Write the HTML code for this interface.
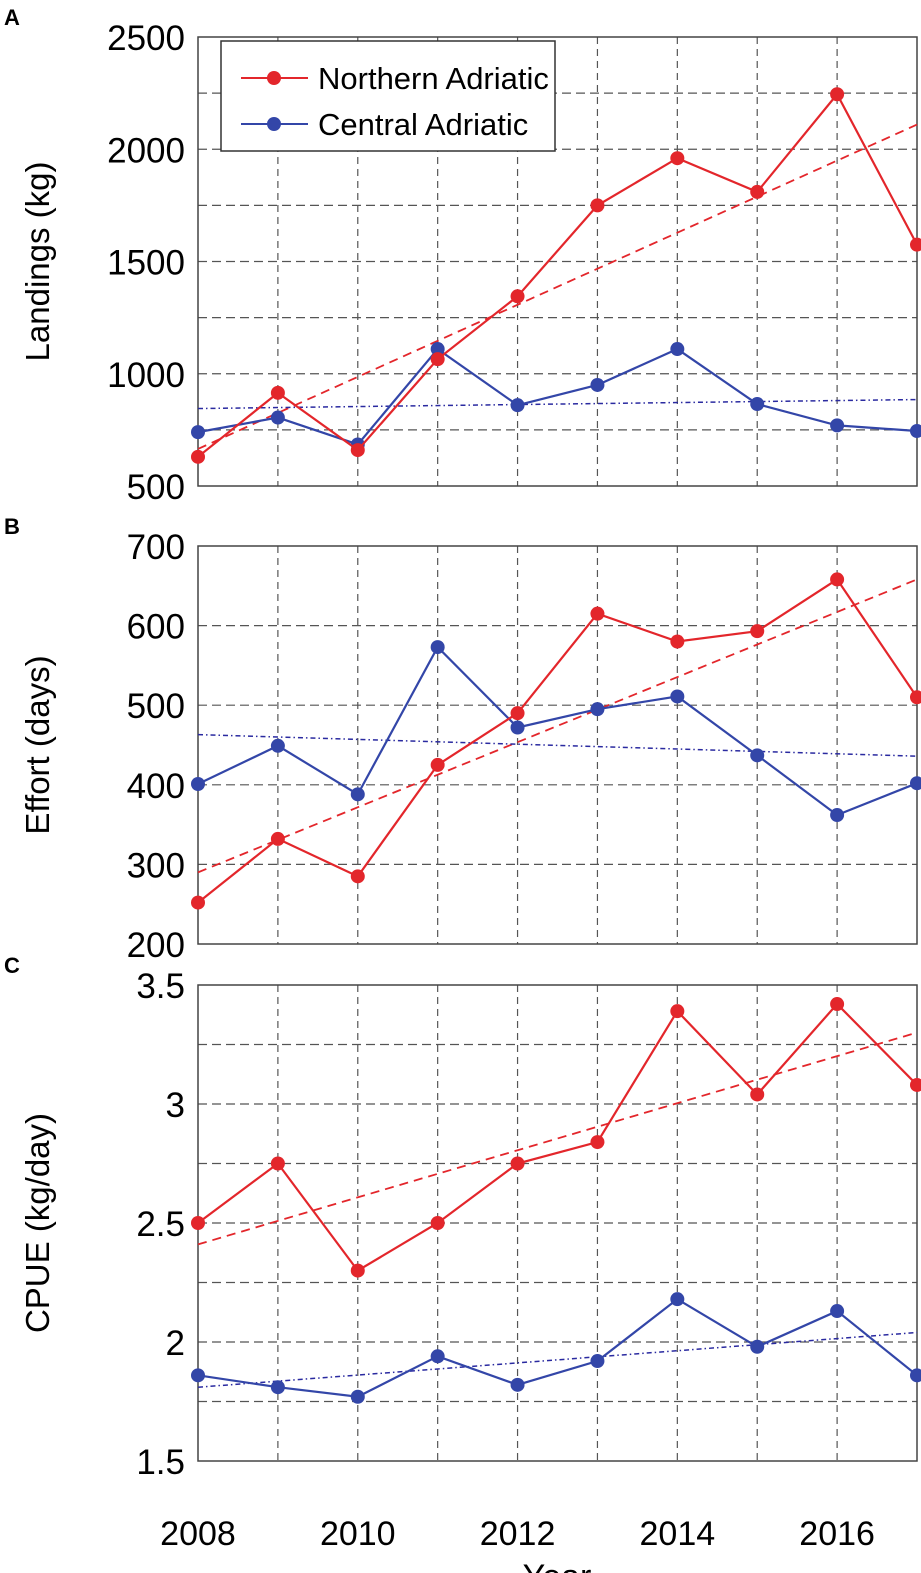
<!DOCTYPE html>
<html><head><meta charset="utf-8"><style>
html,body{margin:0;padding:0;background:#fff}
svg{display:block;font-family:"Liberation Sans",Arial,sans-serif}
</style></head><body>
<svg id="chart" width="921" height="1573" viewBox="0 0 921 1573" xmlns="http://www.w3.org/2000/svg"></svg>
<script>
const years=[2008,2009,2010,2011,2012,2013,2014,2015,2016,2017];
const xTicks=[2008,2010,2012,2014,2016];
const landN=[630,915,660,1065,1345,1750,1960,1810,2245,1575];
const landC=[740,805,685,1110,860,950,1110,865,770,745];
const landTrendN=[665,2110];
const landTrendC=[845,885];
const effN=[252,332,285,425,490,615,580,593,658,510];
const effC=[401,449,388,573,472,495,511,437,362,402];
const effTrendN=[290,658];
const effTrendC=[463,436];
const cpueN=[2.50,2.75,2.30,2.50,2.75,2.84,3.39,3.04,3.42,3.08];
const cpueC=[1.86,1.81,1.77,1.94,1.82,1.92,2.18,1.98,2.13,1.86];
const cpueTrendN=[2.41,3.30];
const cpueTrendC=[1.81,2.04];
const ticksA=[500,1000,1500,2000,2500];
const ticksB=[200,300,400,500,600,700];
const ticksC=[1.5,2,2.5,3,3.5];
const tickLabelsC=["1.5","2","2.5","3","3.5"];

const NS="http://www.w3.org/2000/svg";
const svg=document.getElementById('chart');
function el(tag,attrs,parent){const e=document.createElementNS(NS,tag);for(const k in attrs)e.setAttribute(k,attrs[k]);(parent||svg).appendChild(e);return e;}
const X0=198,X1=917;
function xs(y){return X0+(y-2008)/(2017-2008)*(X1-X0);}
const RED="#e3262b",BLUE="#3346a8";

function panel(cfg){
  const g=el('g',{});
  
  
  const ys=v=>cfg.bot-(v-cfg.min)/(cfg.max-cfg.min)*(cfg.bot-cfg.top);
  years.forEach(yr=>{
    if(yr===2008||yr===2017)return;
    const l=el('line',{x1:xs(yr),x2:xs(yr),y1:cfg.top,y2:cfg.bot,stroke:'#555','stroke-width':1.2,'stroke-dasharray':'7,5'},g);
    
    
  });
  for(let v=cfg.min+cfg.gstep;v<cfg.max-1e-9;v+=cfg.gstep){
    const l=el('line',{x1:X0,x2:X1,y1:ys(v),y2:ys(v),stroke:'#555','stroke-width':1.2,'stroke-dasharray':'9,5'},g);
    
    
  }
  const box=el('rect',{x:X0,y:cfg.top,width:X1-X0,height:cfg.bot-cfg.top,fill:'none',stroke:'#444','stroke-width':1.5},g);
  
  
  cfg.ticks.forEach((v,i)=>{
    const t=el('text',{x:185,y:ys(v)+13,'text-anchor':'end','font-size':35},g);
    t.textContent=cfg.tickLabels?cfg.tickLabels[i]:String(v);
    
    
  });
  const yl=el('text',{x:0,y:0,'text-anchor':'middle','font-size':33,transform:`translate(49 ${(cfg.top+cfg.bot)/2}) rotate(-90)`},g);
  yl.textContent=cfg.ylabel;
  
  
  const pl=el('text',{x:4,y:cfg.top-12,'font-size':22,'font-weight':'bold'},g);
  pl.textContent=cfg.letter;
  
  
  const tn=el('line',{x1:X0,x2:X1,y1:ys(cfg.tn[0]),y2:ys(cfg.tn[1]),stroke:RED,'stroke-width':1.8,'stroke-dasharray':'9,6'},g);
  
  
  const tc=el('line',{x1:X0,x2:X1,y1:ys(cfg.tc[0]),y2:ys(cfg.tc[1]),stroke:'#2a2aa0','stroke-width':1.5,'stroke-dasharray':'5,3,1.5,3'},g);
  
  
  [[cfg.c,BLUE,'central'],[cfg.n,RED,'northern']].forEach(([arr,col,nm])=>{
    const p=el('polyline',{points:arr.map((v,i)=>xs(years[i])+','+ys(v)).join(' '),fill:'none',stroke:col,'stroke-width':2.2},g);
    
    
    arr.forEach((v,i)=>{
      const c=el('circle',{cx:xs(years[i]),cy:ys(v),r:7,fill:col},g);
      
      
    });
  });
  return g;
}
panel({name:'panel-a-landings',letter:'A',top:37,bot:486,min:500,max:2500,gstep:250,ticks:ticksA,ylabel:'Landings (kg)',n:landN,c:landC,tn:landTrendN,tc:landTrendC});
panel({name:'panel-b-effort',letter:'B',top:546,bot:944,min:200,max:700,gstep:100,ticks:ticksB,ylabel:'Effort (days)',n:effN,c:effC,tn:effTrendN,tc:effTrendC});
panel({name:'panel-c-cpue',letter:'C',top:985,bot:1461,min:1.5,max:3.5,gstep:0.25,ticks:ticksC,tickLabels:tickLabelsC,ylabel:'CPUE (kg/day)',n:cpueN,c:cpueC,tn:cpueTrendN,tc:cpueTrendC});

xTicks.forEach(yr=>{
  const t=el('text',{x:xs(yr),y:1545,'text-anchor':'middle','font-size':34});
  t.textContent=String(yr);
  
  
});
const xt=el('text',{x:557,y:1588,'text-anchor':'middle','font-size':34});
xt.textContent='Year';



const lg=el('g',{});


el('rect',{x:221,y:41,width:334,height:110,fill:'#fff',stroke:'#333','stroke-width':1.5},lg);
[[RED,'Northern Adriatic',78],[BLUE,'Central Adriatic',124]].forEach(([col,txt,y])=>{
  const e=el('g',{},lg);
  
  
  el('line',{x1:241,x2:308,y1:y,y2:y,stroke:col,'stroke-width':2},e);
  el('circle',{cx:274,cy:y,r:7,fill:col},e);
  const t=el('text',{x:318,y:y+11,'font-size':31},e);
  t.textContent=txt;
});
</script>
</body></html>
